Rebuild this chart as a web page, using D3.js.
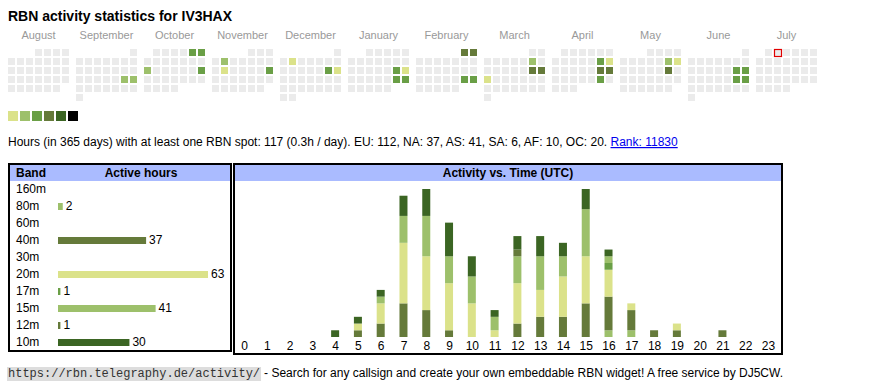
<!DOCTYPE html>
<html><head><meta charset="utf-8">
<script src="https://cdn.jsdelivr.net/npm/d3@7"></script>
<style>
body{margin:0;background:#fff;}
svg{display:block;font-family:"Liberation Sans",Arial,sans-serif;}
</style>
</head><body>
<script>
// ---------- data ----------
const title = "RBN activity statistics for IV3HAX";
const monthNames = ["August","September","October","November","December","January","February","March","April","May","June","July"];
const calStart = "2024-08-01";
const calEnd = "2025-08-01";
const todayDate = "2025-07-02";
const activeDates = ["2024-09-21","2024-09-22","2024-10-05","2024-10-06","2024-10-14","2024-10-20",
  "2024-11-05","2024-11-12","2024-11-17","2024-12-03","2024-12-14","2024-12-15",
  "2025-01-18","2025-01-19","2025-01-25","2025-01-26","2025-02-01","2025-02-02","2025-02-22","2025-02-23",
  "2025-03-08","2025-03-15","2025-03-16","2025-03-17","2025-04-12","2025-04-13","2025-04-19","2025-04-20","2025-04-26",
  "2025-05-10","2025-05-11","2025-05-17","2025-06-14","2025-06-15","2025-06-21","2025-06-22"];
const activeLevels = [2,2,3,3,2,3, 2,1,3,1,3,1, 3,1,3,3,4,4,3,3, 2,4,4,1,3,1,4,4,3, 2,1,4,3,3,3,3];
const levelColors = ["#dbe28a","#9dc06b","#6a9f46","#657a3a","#3b6523","#000000"];
const emptyColor = "#ebebeb";

const infoText = "Hours (in 365 days) with at least one RBN spot: 117 (0.3h / day). EU: 112, NA: 37, AS: 41, SA: 6, AF: 10, OC: 20. ";
const rankText = "Rank: 11830";

const bands = ["160m","80m","60m","40m","30m","20m","17m","15m","12m","10m"];
const bandHours = [0,2,0,37,0,63,1,41,1,30];
const bandColors = ["#dbe28a","#9dc06b","#6a9f46","#657a3a","#3b6523","#dbe28a","#6a9f46","#9dc06b","#657a3a","#3b6523"];

const hourLabels = ["0","1","2","3","4","5","6","7","8","9","10","11","12","13","14","15","16","17","18","19","20","21","22","23"];
const h160m = [0,0,0,0,0,0,0,0,0,0,0,0,0,0,0,0,0,0,0,0,0,0,0,0];
const h80m  = [0,0,0,0,0,0,0,0,0,0,0,0,0,0,0,0,1,1,0,0,0,0,0,0];
const h60m  = [0,0,0,0,0,0,0,0,0,0,0,0,0,0,0,0,0,0,0,0,0,0,0,0];
const h40m  = [0,0,0,0,0,1,2,5,4,1,0,0,2,3,3,5,5,3,1,1,0,1,0,0];
const h30m  = [0,0,0,0,0,0,0,0,0,0,0,0,0,0,0,0,0,0,0,0,0,0,0,0];
const h20m  = [0,0,0,0,0,1,3,9,8,7,5,1,6,4,6,7,4,1,0,1,0,0,0,0];
const h17m  = [0,0,0,0,0,0,0,0,0,0,0,0,0,0,0,0,1,0,0,0,0,0,0,0];
const h15m  = [0,0,0,0,0,0,1,4,6,4,4,2,4,5,3,7,1,0,0,0,0,0,0,0];
const h12m  = [0,0,0,0,0,0,0,0,0,0,0,0,1,0,0,0,0,0,0,0,0,0,0,0];
const h10m  = [0,0,0,0,1,1,1,3,4,5,3,1,2,3,2,3,1,0,0,0,0,0,0,0];

const footerUrl = "https://rbn.telegraphy.de/activity/";
const footerText = "- Search for any callsign and create your own embeddable RBN widget! A free service by DJ5CW.";

// ---------- drawing ----------
const W = 870, H = 390;
const svg = d3.select("body").append("svg").attr("width", W).attr("height", H);

svg.append("text").attr("x", 8).attr("y", 21)
  .attr("font-size", 14).attr("font-weight", "bold").attr("fill", "#000").text(title);

// calendar
const parse = d3.timeParse("%Y-%m-%d");
const fmt = d3.timeFormat("%Y-%m-%d");
const start = parse(calStart), end = parse(calEnd);
const days = d3.timeDay.range(start, end);
const levelByDate = new Map(activeDates.map((d, i) => [d, activeLevels[i]]));
const monthX = d3.scaleLinear().domain([0, 1]).range([8, 76]);
const colX = d3.scaleLinear().domain([0, 1]).range([0, 9]);
const rowY = d3.scaleLinear().domain([0, 1]).range([49, 58]);
const cell = 7;
const monthIndex = d => d3.timeMonth.count(start, d);
const dow = d => (d.getDay() + 6) % 7;
const weekRow = d => {
  const first = d3.timeMonth.floor(d);
  return Math.floor((d.getDate() - 1 + dow(first)) / 7);
};

const cal = svg.append("g");
cal.selectAll("text.month").data(monthNames).join("text")
  .attr("class", "month")
  .attr("x", (m, i) => monthX(i) + colX(3) + cell / 2)
  .attr("y", 39).attr("text-anchor", "middle")
  .attr("font-size", 11).attr("fill", "#999").text(m => m);

cal.selectAll("rect.day").data(days).join("rect")
  .attr("class", "day")
  .attr("x", d => monthX(monthIndex(d)) + colX(dow(d)))
  .attr("y", d => rowY(weekRow(d)))
  .attr("width", cell).attr("height", cell)
  .attr("fill", d => {
    const l = levelByDate.get(fmt(d));
    return l ? levelColors[l - 1] : emptyColor;
  });

const today = parse(todayDate);
cal.append("rect")
  .attr("x", monthX(monthIndex(today)) + colX(dow(today)) + 0.5)
  .attr("y", rowY(weekRow(today)) + 0.5)
  .attr("width", cell).attr("height", cell)
  .attr("fill", emptyColor).attr("stroke", "#e00000").attr("stroke-width", 1.2);

// legend
const legX = d3.scaleLinear().domain([0, 1]).range([8, 20]);
svg.selectAll("rect.leg").data(levelColors).join("rect")
  .attr("class", "leg")
  .attr("x", (c, i) => legX(i)).attr("y", 111)
  .attr("width", 10).attr("height", 10).attr("fill", c => c);

// info line
const info = svg.append("text").attr("x", 8).attr("y", 146).attr("font-size", 12).attr("fill", "#000");
info.append("tspan").text(infoText);
info.append("tspan").attr("fill", "#0000ee").attr("text-decoration", "underline").text(rankText);

// band table
const bt = svg.append("g");
bt.append("rect").attr("x", 9).attr("y", 164).attr("width", 222).attr("height", 187)
  .attr("fill", "#fff").attr("stroke", "#000").attr("stroke-width", 2);
bt.append("rect").attr("x", 10).attr("y", 165).attr("width", 220).attr("height", 16).attr("fill", "#aabbff");
bt.append("text").attr("x", 16).attr("y", 177).attr("font-size", 12).attr("font-weight", "bold").text("Band");
bt.append("text").attr("x", 141).attr("y", 177).attr("font-size", 12).attr("font-weight", "bold")
  .attr("text-anchor", "middle").text("Active hours");

const bandY = d3.scalePoint().domain(bands).range([193, 346]);
const bandX = d3.scaleLinear().domain([0, 63]).range([58, 208]);
bt.selectAll("text.bl").data(bands).join("text").attr("class", "bl")
  .attr("x", 16).attr("y", b => bandY(b)).attr("font-size", 12).text(b => b);
const bandRows = bands.map((b, i) => ({ band: b, hours: bandHours[i], color: bandColors[i] })).filter(d => d.hours > 0);
bt.selectAll("rect.bb").data(bandRows).join("rect").attr("class", "bb")
  .attr("x", bandX(0)).attr("y", d => bandY(d.band) - 7)
  .attr("width", d => bandX(d.hours) - bandX(0)).attr("height", 7).attr("fill", d => d.color);
bt.selectAll("text.bv").data(bandRows).join("text").attr("class", "bv")
  .attr("x", d => bandX(d.hours) + 3).attr("y", d => bandY(d.band))
  .attr("font-size", 12).text(d => d.hours);

// activity vs time
const ct = svg.append("g");
ct.append("rect").attr("x", 234).attr("y", 164).attr("width", 548).attr("height", 190)
  .attr("fill", "#fff").attr("stroke", "#000").attr("stroke-width", 2);
ct.append("rect").attr("x", 235).attr("y", 165).attr("width", 546).attr("height", 16).attr("fill", "#aabbff");
ct.append("text").attr("x", 508).attr("y", 177).attr("font-size", 12).attr("font-weight", "bold")
  .attr("text-anchor", "middle").text("Activity vs. Time (UTC)");

const hourSeries = [h160m, h80m, h60m, h40m, h30m, h20m, h17m, h15m, h12m, h10m];
const rows = hourLabels.map((h, i) => {
  const r = { hour: h };
  bands.forEach((b, j) => r[b] = hourSeries[j][i]);
  return r;
});
const stack = d3.stack().keys(bands)(rows);
const maxTotal = d3.max(stack[stack.length - 1], d => d[1]);
const hx = d3.scalePoint().domain(hourLabels).range([244, 768]);
const hy = d3.scaleLinear().domain([0, maxTotal]).range([337, 189]);
const barW = 8;

ct.selectAll("g.layer").data(stack).join("g").attr("class", "layer")
  .attr("fill", (s, i) => bandColors[i])
  .selectAll("rect").data(s => s.filter(d => d[1] > d[0])).join("rect")
  .attr("x", d => hx(d.data.hour) - barW / 2)
  .attr("y", d => hy(d[1]))
  .attr("width", barW)
  .attr("height", d => hy(d[0]) - hy(d[1]));

const axis = d3.axisBottom(hx).tickSize(0).tickPadding(0);
const ax = ct.append("g").attr("transform", "translate(0,341)").call(axis);
ax.select(".domain").remove();
ax.selectAll("text").attr("font-size", 12).attr("font-family", "'Liberation Sans',Arial,sans-serif")
  .attr("fill", "#000").attr("dy", "0.71em");

// footer
const fg = svg.append("g");
const fbg = fg.append("rect").attr("x", 7).attr("y", 367).attr("height", 14).attr("fill", "#dddddd");
const fu = fg.append("text").attr("x", 8).attr("y", 377)
  .attr("font-family", "'Liberation Mono','Courier New',monospace").attr("font-size", 12)
  .attr("fill", "#333").text(footerUrl);
const fuLen = fu.node().getComputedTextLength();
fbg.attr("width", fuLen + 2);
fg.append("text").attr("x", 8 + fuLen + 4).attr("y", 377).attr("font-size", 12)
  .attr("fill", "#000").text(footerText);
</script>
</body></html>
